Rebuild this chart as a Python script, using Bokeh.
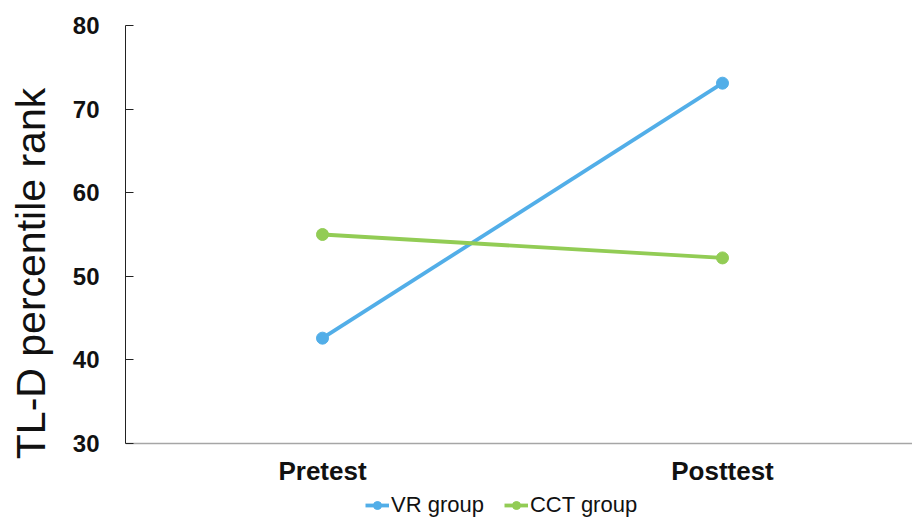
from bokeh.plotting import figure
from bokeh.models import Legend, LegendItem, FixedTicker, Range1d, ColumnDataSource
from bokeh.embed import file_html
from bokeh.resources import INLINE

phases = ["Pretest", "Posttest"]
phase_pos = [0, 1]
vr_group = [42.6, 73.1]
cct_group = [55.0, 52.2]
y_ticks = [30, 40, 50, 60, 70, 80]

BLUE = "#52AEE8"
GREEN = "#92CC55"
FONT = "Liberation Sans"

# frame runs to the bottom of the window; x axis is pinned at y=30 so the
# legend can sit below the category labels, inside the frame
p = figure(frame_width=787, frame_height=496, output_backend="svg", toolbar_location=None,
           x_range=Range1d(-0.4925, 1.475), y_range=Range1d(20.67, 80),
           min_border_left=125, min_border_right=0, min_border_top=25, min_border_bottom=0)
p.outline_line_color = None
p.grid.grid_line_color = None

src_vr = ColumnDataSource(dict(x=phase_pos, y=vr_group))
src_cct = ColumnDataSource(dict(x=phase_pos, y=cct_group))
l1 = p.line("x", "y", source=src_vr, line_color=BLUE, line_width=3.8)
c1 = p.scatter("x", "y", source=src_vr, size=12, fill_color=BLUE, line_color=BLUE)
l2 = p.line("x", "y", source=src_cct, line_color=GREEN, line_width=3.8)
c2 = p.scatter("x", "y", source=src_cct, size=12, fill_color=GREEN, line_color=GREEN)

p.xaxis.fixed_location = y_ticks[0]
p.xaxis.ticker = FixedTicker(ticks=phase_pos)
p.xaxis.major_label_overrides = {pos: lab for pos, lab in zip(phase_pos, phases)}
p.xaxis.major_tick_in = 0
p.xaxis.major_tick_out = 0
p.xaxis.minor_tick_line_color = None
p.xaxis.axis_line_color = "#A6A6A6"
p.xaxis.axis_line_width = 1.5
p.xaxis.major_label_text_font = FONT
p.xaxis.major_label_text_font_style = "bold"
p.xaxis.major_label_text_font_size = "26px"
p.xaxis.major_label_text_color = "#111111"
p.xaxis.major_label_standoff = 12

p.yaxis.bounds = (y_ticks[0], y_ticks[-1])
p.yaxis.ticker = FixedTicker(ticks=y_ticks)
p.yaxis.major_tick_in = 8
p.yaxis.major_tick_out = 0
p.yaxis.minor_tick_line_color = None
p.yaxis.axis_line_color = "#222222"
p.yaxis.major_tick_line_color = "#222222"
p.yaxis.major_label_text_font = FONT
p.yaxis.major_label_text_font_style = "bold"
p.yaxis.major_label_text_font_size = "24px"
p.yaxis.major_label_text_color = "#111111"
p.yaxis.major_label_standoff = 26
p.yaxis.axis_label = "TL-D percentile rank"
p.yaxis.axis_label_text_font = FONT
p.yaxis.axis_label_text_font_style = "normal"
p.yaxis.axis_label_text_font_size = "41px"
p.yaxis.axis_label_text_color = "#111111"
p.yaxis.axis_label_standoff = 16

legend = Legend(items=[LegendItem(label="VR group", renderers=[l1, c1]),
                       LegendItem(label="CCT group", renderers=[l2, c2])],
                orientation="horizontal", location=(240, 3),
                label_text_font=FONT, label_text_font_size="22px", label_text_color="#111111",
                glyph_width=24, glyph_height=20, label_height=20, spacing=20, label_standoff=2,
                padding=0, margin=0, border_line_color=None, background_fill_alpha=0)
p.add_layout(legend, "center")

open("out.html", "w").write(file_html(p, INLINE))
